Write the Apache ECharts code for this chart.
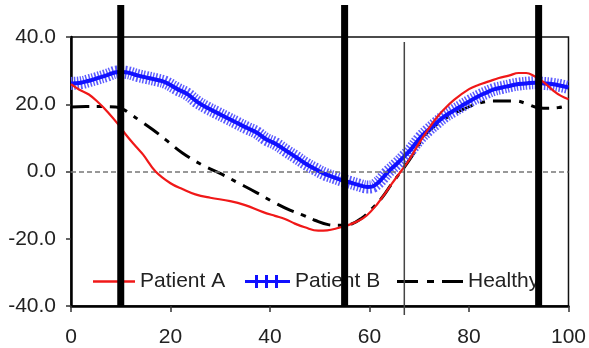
<!DOCTYPE html>
<html>
<head>
<meta charset="utf-8">
<script src="https://cdn.jsdelivr.net/npm/echarts@6/dist/echarts.min.js"></script>
<style>
html,body{margin:0;padding:0;background:#fff;}
#chart{width:589px;height:348px;}
</style>
</head>
<body>
<div id="chart"></div>
<script>
// ---- data ----
const xTicks = [0, 20, 40, 60, 80, 100];
const yTicks = [-40, -20, 0, 20, 40];

const patientAX = [0, 1.6, 3.6, 5.5, 7.5, 9.5, 11, 13, 14.5, 17, 20, 22.5, 25, 28, 32, 35, 38.5, 41, 43, 45, 47, 49.7, 51.5, 53.7, 56, 58, 59.5, 61.5, 63, 64.5, 66.3, 68, 70, 72, 73.5, 75, 77, 80, 82, 84, 86, 88, 90, 91.5, 93, 95, 97, 98.5, 100];
const patientAY = [26, 24.4, 22.9, 20.5, 17.5, 14, 11, 7.5, 5, 0, -3.5, -5.3, -6.8, -7.8, -8.8, -10, -12, -13.2, -14.1, -15.5, -16.6, -17.6, -17.5, -16.8, -15.8, -14.5, -13, -9.8, -6.8, -3.6, 0, 3.5, 8.5, 13, 16, 18.5, 21.3, 24.5, 25.8, 26.8, 27.8, 28.5, 29.3, 29.3, 28.5, 26.6, 24, 22.5, 21.5];

const patientBX = [0, 2, 3.6, 5, 7, 9.5, 11, 13.5, 15, 17.4, 19, 21.4, 23.4, 25.3, 27.3, 29.3, 31.3, 33.3, 35.3, 37.3, 39.2, 41.2, 43.2, 45.1, 47.1, 49, 51.1, 53, 54.5, 56, 57.6, 59.6, 60.5, 61.6, 62.6, 63.6, 65.5, 67, 68.3, 70.2, 71.8, 73.5, 75, 76.8, 78.5, 80.2, 82.2, 83.4, 85, 86.7, 88.5, 90, 92, 93.3, 95, 96.6, 98.5, 100];
const patientBY = [26.2, 26.4, 27, 27.6, 28.5, 29.6, 29.5, 28.5, 28, 27.2, 26.5, 24.5, 23, 20.8, 19, 17.5, 16, 14.5, 13, 11.6, 9.6, 8.2, 6.2, 4.4, 2.4, 0.8, -0.8, -1.8, -2.6, -3.2, -3.9, -4.6, -4.5, -3.5, -2, -0.3, 2.3, 4.5, 6.5, 10, 12.3, 14.5, 16.3, 18, 19.5, 21, 22.6, 23.4, 24.4, 25, 25.6, 26, 26.3, 26.4, 26.2, 26, 25.5, 25];

const healthyX = [0, 3, 6, 9, 10.5, 12, 14, 16.4, 19, 22.4, 26.3, 30.3, 33.5, 37.2, 41.2, 44, 46.5, 49, 51.7, 54, 56.4, 58.5, 60.4, 62.5, 64.4, 66.5, 68.5, 71, 73.5, 76, 78.8, 81, 83.4, 85, 87, 89.3, 91.5, 93.3, 95, 98, 100];
const healthyY = [19.2, 19.3, 19.3, 19.2, 18.5, 17, 15, 12.5, 9.5, 5.5, 2, -0.8, -3.3, -6.2, -9.5, -11.5, -12.9, -14.5, -15.8, -16, -15.6, -13.8, -11.2, -7.8, -3.8, 0.3, 4.5, 10.5, 14, 16.5, 18.5, 19.8, 20.8, 21, 21, 21, 20.2, 19.2, 18.8, 19, 19.8];

const phaseLines = [10, 55, 94];   // thick black vertical markers
const thinLine = [67];             // thin vertical marker

const seriesNames = ['Patient A', 'Patient B', 'Healthy'];

// ---- build ----
const zip = (xs, ys) => xs.map((x, i) => [x, ys[i]]);
const FONT = 'Liberation Sans, Arial, sans-serif';

const chart = echarts.init(document.getElementById('chart'), null, {renderer: 'canvas'});

const legendBase = {
  top: 271, padding: 0, itemGap: 10, selectedMode: false,
  textStyle: {fontSize: 21, color: '#222', fontFamily: FONT}
};

chart.setOption({
  animation: false,
  backgroundColor: '#fff',
  grid: {left: 71, right: 12, top: 37, bottom: 40, show: true, borderColor: '#111', borderWidth: 1.5, backgroundColor: 'transparent'},
  xAxis: {
    type: 'value', min: xTicks[0], max: xTicks[xTicks.length - 1], interval: 20,
    axisLine: {show: true, onZero: false, lineStyle: {color: '#000', width: 2.5}},
    axisTick: {show: true, length: 6, lineStyle: {color: '#333', width: 1.5}},
    axisLabel: {fontSize: 21, color: '#222', fontFamily: FONT, margin: 21},
    splitLine: {show: false}
  },
  yAxis: {
    type: 'value', min: yTicks[0], max: yTicks[yTicks.length - 1], interval: 20,
    axisLine: {show: true, onZero: false, lineStyle: {color: '#000', width: 2.5}},
    axisTick: {show: true, length: 5, lineStyle: {color: '#333', width: 1.5}},
    axisLabel: {fontSize: 21, color: '#222', fontFamily: FONT, margin: 15, formatter: v => v.toFixed(1)},
    splitLine: {show: false}
  },
  legend: [
    Object.assign({}, legendBase, {left: 93, itemWidth: 42, itemHeight: 2.5,
      data: [{name: seriesNames[0], icon: 'path://M0,0h42v2.5h-42z', itemStyle: {color: '#f01818'}}]}),
    Object.assign({}, legendBase, {left: 245, itemWidth: 45, itemHeight: 13,
      data: [{name: seriesNames[1], icon: 'path://M0,5h45v3h-45z M10,0h3v13h-3z M20,0h3v13h-3z M30,0h3v13h-3z', itemStyle: {color: '#1010ff'}}]}),
    Object.assign({}, legendBase, {left: 397, itemWidth: 66, itemHeight: 3,
      data: [{name: seriesNames[2], icon: 'path://M0,0h21v3h-21z M30,0h7v3h-7z M45,0h21v3h-21z', itemStyle: {color: '#000'}}]})
  ],
  series: [
    {
      name: seriesNames[2], type: 'line', data: zip(healthyX, healthyY), smooth: 0.4,
      symbol: 'none', z: 2,
      lineStyle: {color: '#000', width: 3, type: [18, 8, 5, 8], cap: 'butt'},
      itemStyle: {color: '#000'},
      markLine: {
        silent: true, symbol: 'none', label: {show: false},
        lineStyle: {color: '#777', width: 1.5, type: [5, 3]},
        data: [{yAxis: 0}]
      }
    },
    {
      name: 'Patient B ticks', type: 'line', data: zip(patientBX, patientBY), smooth: 0.4,
      symbol: 'none', z: 3,
      lineStyle: {color: '#5a5aff', width: 13, type: [1.5, 1.6], cap: 'butt'}
    },
    {
      name: seriesNames[1], type: 'line', data: zip(patientBX, patientBY), smooth: 0.4,
      symbol: 'none', z: 4,
      lineStyle: {color: '#1010ff', width: 4},
      itemStyle: {color: '#1010ff'}
    },
    {
      name: seriesNames[0], type: 'line', data: zip(patientAX, patientAY), smooth: 0.4,
      symbol: 'none', z: 5,
      lineStyle: {color: '#f01818', width: 2.2},
      itemStyle: {color: '#f01818'}
    },
    {
      name: 'thin marker', type: 'custom', z: 6, clip: false, silent: true,
      data: thinLine.map(x => [x, 0]),
      encode: {x: 0, y: 1},
      renderItem: (params, api) => {
        const x = api.value(0);
        const top = api.coord([x, 38.5]);
        const bot = api.coord([x, -40]);
        return {type: 'line', shape: {x1: top[0], y1: top[1], x2: bot[0], y2: bot[1] + 9},
          style: {stroke: '#444', lineWidth: 1.5}};
      }
    },
    {
      name: 'phase markers', type: 'custom', z: 10, clip: false, silent: true,
      data: phaseLines.map(x => [x, 0]),
      encode: {x: 0, y: 1},
      renderItem: (params, api) => {
        const x = api.value(0);
        const top = api.coord([x, 40]);
        const bot = api.coord([x, -40]);
        return {type: 'line', shape: {x1: top[0], y1: top[1] - 32, x2: bot[0], y2: bot[1]},
          style: {stroke: '#000', lineWidth: 7}};
      }
    }
  ]
});
</script>
</body>
</html>
